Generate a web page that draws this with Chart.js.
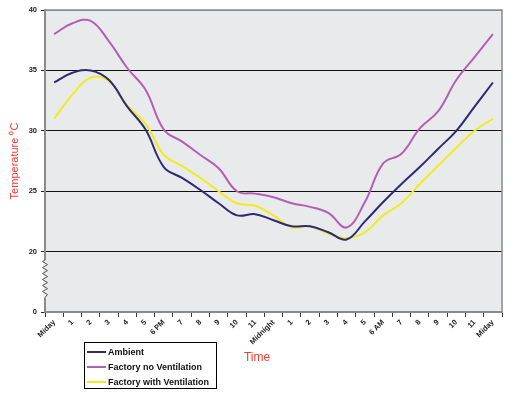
<!DOCTYPE html>
<html>
<head>
<meta charset="utf-8">
<script src="https://cdn.jsdelivr.net/npm/chart.js@4.4.0/dist/chart.umd.min.js"></script>
<style>
  body { margin: 0; background: #fff; }
  canvas { display: block; }
</style>
</head>
<body>
<canvas id="tempChart" width="525" height="397"></canvas>
<script>
// hours from midday to midday
const hours = ['Miday', '1', '2', '3', '4', '5', '6 PM', '7', '8', '9', '10', '11', 'Midnight',
  '1', '2', '3', '4', '5', '6 AM', '7', '8', '9', '10', '11', 'Miday'];

const ambient = [34.0, 34.8, 35.0, 34.2, 32.0, 30.1, 27.0, 26.1, 25.1, 24.0, 23.0, 23.1, 22.6,
  22.1, 22.1, 21.6, 21.0, 22.5, 24.1, 25.6, 27.0, 28.5, 30.0, 32.0, 34.0];
const noVentilation = [38.0, 38.9, 39.1, 37.4, 35.2, 33.4, 30.1, 29.1, 28.0, 26.9, 25.0, 24.8, 24.5,
  24.0, 23.7, 23.2, 22.0, 24.1, 27.3, 28.1, 30.2, 31.6, 34.2, 36.1, 38.0];
const withVentilation = [31.0, 33.0, 34.4, 34.1, 32.1, 30.6, 28.0, 27.1, 26.1, 25.0, 24.0, 23.8, 23.0,
  22.0, 22.1, 21.5, 21.1, 21.6, 23.0, 24.0, 25.6, 27.1, 28.6, 30.0, 31.0];

// y axis is broken: bottom tick stands for 0
const axisBottom = 15;
const axisTop = 40;

const fontName = '"Liberation Sans", Arial, sans-serif';

const chartDecor = {
  id: 'chartDecor',
  beforeDraw(chart) {
    const { ctx, chartArea: a } = chart;
    ctx.save();
    ctx.fillStyle = '#e9eaec';
    ctx.fillRect(a.left, a.top, a.right - a.left, a.bottom - a.top);
    ctx.restore();
  },
  afterDraw(chart) {
    const { ctx, chartArea: a } = chart;
    const y = chart.scales.y;
    ctx.save();

    // frame on top and right
    ctx.strokeStyle = '#8a8a8a';
    ctx.lineWidth = 1.5;
    ctx.beginPath();
    ctx.moveTo(a.left, a.top);
    ctx.lineTo(a.right, a.top);
    ctx.lineTo(a.right, a.bottom);
    ctx.stroke();

    // axis break zigzag
    const y1 = y.getPixelForValue(19.3);
    const y2 = y.getPixelForValue(16.2);
    ctx.fillStyle = '#e9eaec';
    ctx.fillRect(a.left - 1.5, y1, 3, y2 - y1);
    ctx.strokeStyle = '#555';
    ctx.lineWidth = 1;
    ctx.beginPath();
    ctx.moveTo(a.left, y1);
    let side = -1;
    for (let py = y1 + 1.5; py < y2; py += 3) {
      ctx.lineTo(a.left + side * 2.5, py);
      side = -side;
    }
    ctx.lineTo(a.left, y2);
    ctx.stroke();

    // x axis title
    ctx.fillStyle = '#ee3b30';
    ctx.font = '12px ' + fontName;
    ctx.textAlign = 'center';
    ctx.textBaseline = 'middle';
    ctx.fillText('Time', 257, 358);

    // legend box
    ctx.strokeStyle = '#000';
    ctx.lineWidth = 1;
    ctx.strokeRect(84.5, 342.5, 132, 46);
    ctx.font = 'bold 9px ' + fontName;
    ctx.textAlign = 'left';
    chart.data.datasets.forEach((ds, i) => {
      const ly = 352 + i * 15;
      ctx.strokeStyle = ds.borderColor;
      ctx.lineWidth = 2;
      ctx.beginPath();
      ctx.moveTo(87, ly);
      ctx.lineTo(106, ly);
      ctx.stroke();
      ctx.fillStyle = '#111';
      ctx.fillText(ds.label, 108, ly + 0.5);
    });
    ctx.restore();
  }
};

new Chart(document.getElementById('tempChart').getContext('2d'), {
  type: 'line',
  data: {
    labels: hours,
    datasets: [
      { label: 'Ambient', data: ambient, borderColor: '#2e2a75' },
      { label: 'Factory no Ventilation', data: noVentilation, borderColor: '#b45fb6' },
      { label: 'Factory with Ventilation', data: withVentilation, borderColor: '#f0ec1e' }
    ]
  },
  options: {
    responsive: false,
    animation: false,
    devicePixelRatio: 1,
    layout: { padding: { top: 10, right: 23, left: 0, bottom: 0 } },
    elements: {
      line: { borderWidth: 2, tension: 0.4, fill: false },
      point: { radius: 0 }
    },
    plugins: {
      legend: { display: false },
      tooltip: { enabled: false }
    },
    scales: {
      x: {
        offset: true,
        afterFit(scale) { scale.height = 85; },
        border: { color: '#8a8a8a', width: 2 },
        grid: { offset: true, drawOnChartArea: false, tickLength: 5, tickColor: '#333' },
        ticks: {
          autoSkip: false,
          maxRotation: 45,
          minRotation: 45,
          padding: 1,
          color: '#222',
          font: { family: fontName, size: 7.5, weight: 'bold' }
        }
      },
      y: {
        min: axisBottom,
        max: axisTop,
        afterFit(scale) { scale.width = 45; },
        border: { color: '#8a8a8a', width: 2 },
        grid: {
          tickLength: 4,
          tickColor: '#222',
          lineWidth: 1,
          color: ctx => (ctx.tick && (ctx.tick.value === axisBottom || ctx.tick.value === axisTop)) ? '#8a8a8a' : '#111'
        },
        ticks: {
          stepSize: 5,
          padding: 4,
          color: '#222',
          font: { family: fontName, size: 7.5, weight: 'bold' },
          callback: v => (v === axisBottom ? '0' : v)
        },
        title: {
          display: true,
          text: 'Temperature \u2070C',
          color: '#ee3b30',
          font: { family: fontName, size: 11 },
          padding: { top: 8, bottom: 0 }
        }
      }
    }
  },
  plugins: [chartDecor]
});
</script>
</body>
</html>
